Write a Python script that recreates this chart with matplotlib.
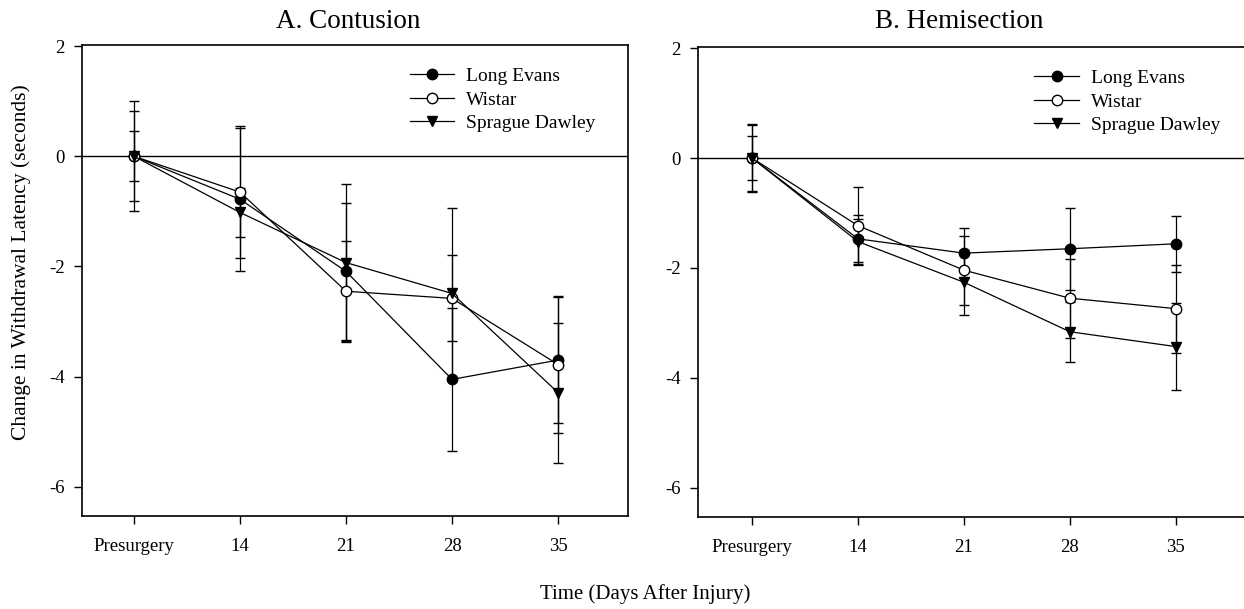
import matplotlib
matplotlib.use("Agg")
import matplotlib.pyplot as plt
from matplotlib.lines import Line2D

plt.rcParams['font.family'] = ['Liberation Serif', 'DejaVu Serif']

tick_labels = ["Presurgery", "14", "21", "28", "35"]
series_names = ["Long Evans", "Wistar", "Sprague Dawley"]

# Panel A: Contusion
a_long_evans = [0.0, -0.78, -2.09, -4.05, -3.70]
a_long_evans_err = [0.82, 1.30, 1.25, 1.30, 1.15]
a_wistar = [0.0, -0.65, -2.45, -2.58, -3.78]
a_wistar_err = [1.00, 1.20, 0.92, 0.78, 1.24]
a_sprague = [0.0, -1.02, -1.93, -2.49, -4.29]
a_sprague_err = [0.45, 0.45, 1.42, 1.56, 1.27]

# Panel B: Hemisection
b_long_evans = [0.0, -1.47, -1.73, -1.65, -1.56]
b_long_evans_err = [0.62, 0.43, 0.46, 0.75, 0.51]
b_wistar = [0.0, -1.23, -2.04, -2.55, -2.74]
b_wistar_err = [0.60, 0.70, 0.63, 0.72, 0.80]
b_sprague = [0.0, -1.52, -2.26, -3.16, -3.43]
b_sprague_err = [0.40, 0.42, 0.59, 0.55, 0.79]

fig = plt.figure(figsize=(12.44, 6.09), dpi=100)
ax1 = fig.add_axes([82/1244, 1-516/609, 546/1244, 471/609])
ax2 = fig.add_axes([698/1244, 1-517/609, 552/1244, 470/609])

styles = [dict(marker='o', mfc='black', mec='black'),
          dict(marker='o', mfc='white', mec='black'),
          dict(marker='v', mfc='black', mec='black')]

x = list(range(len(tick_labels)))

def draw(ax, data, xlim, leg_x):
    ax.axhline(0, color='black', lw=1.0, zorder=1)
    for (vals, errs), name, st in zip(data, series_names, styles):
        ax.errorbar(x, vals, yerr=errs, color='black', lw=0.9, elinewidth=0.9,
                    capsize=3.3, capthick=0.9, markersize=7.5, mew=1.0,
                    label=name, zorder=3, **st)
    ax.set_xlim(*xlim)
    ax.set_ylim(-6.53, 2.02)
    ax.set_xticks(x)
    ax.set_xticklabels(tick_labels, fontsize=13.5)
    ax.set_yticks([2, 0, -2, -4, -6])
    ax.set_yticklabels(["2", "0", "-2", "-4", "-6"], fontsize=13.5)
    ax.tick_params(axis='x', direction='out', length=5.5, width=1.0, pad=10)
    ax.tick_params(axis='y', direction='out', length=5.5, width=1.0, pad=7)
    for s in ax.spines.values():
        s.set_linewidth(1.2)
    leg_handles = [Line2D([0], [0], color='black', lw=0.9, markersize=7.5, **st) for st in styles]
    ax.legend(leg_handles, series_names, loc='upper right', frameon=False, fontsize=14,
              handlelength=2.3, handletextpad=0.6, labelspacing=0.3,
              bbox_to_anchor=(leg_x, 0.985), borderaxespad=0.4)

draw(ax1, [(a_long_evans, a_long_evans_err), (a_wistar, a_wistar_err), (a_sprague, a_sprague_err)],
     (-0.49, 4.66), 0.969)
draw(ax2, [(b_long_evans, b_long_evans_err), (b_wistar, b_wistar_err), (b_sprague, b_sprague_err)],
     (-0.51, 4.70), 0.974)

fig.text(348/1244, 1-22/609, "A. Contusion", ha='center', va='center', fontsize=19.5)
fig.text(959/1244, 1-22/609, "B. Hemisection", ha='center', va='center', fontsize=19.5)
fig.text(21/1244, 1-262/609, "Change in Withdrawal Latency (seconds)", ha='center', va='center',
         rotation=90, fontsize=15.5)
fig.text(645/1244, 1-594/609, "Time (Days After Injury)", ha='center', va='center', fontsize=15)

fig.savefig("out.png", dpi=100)
